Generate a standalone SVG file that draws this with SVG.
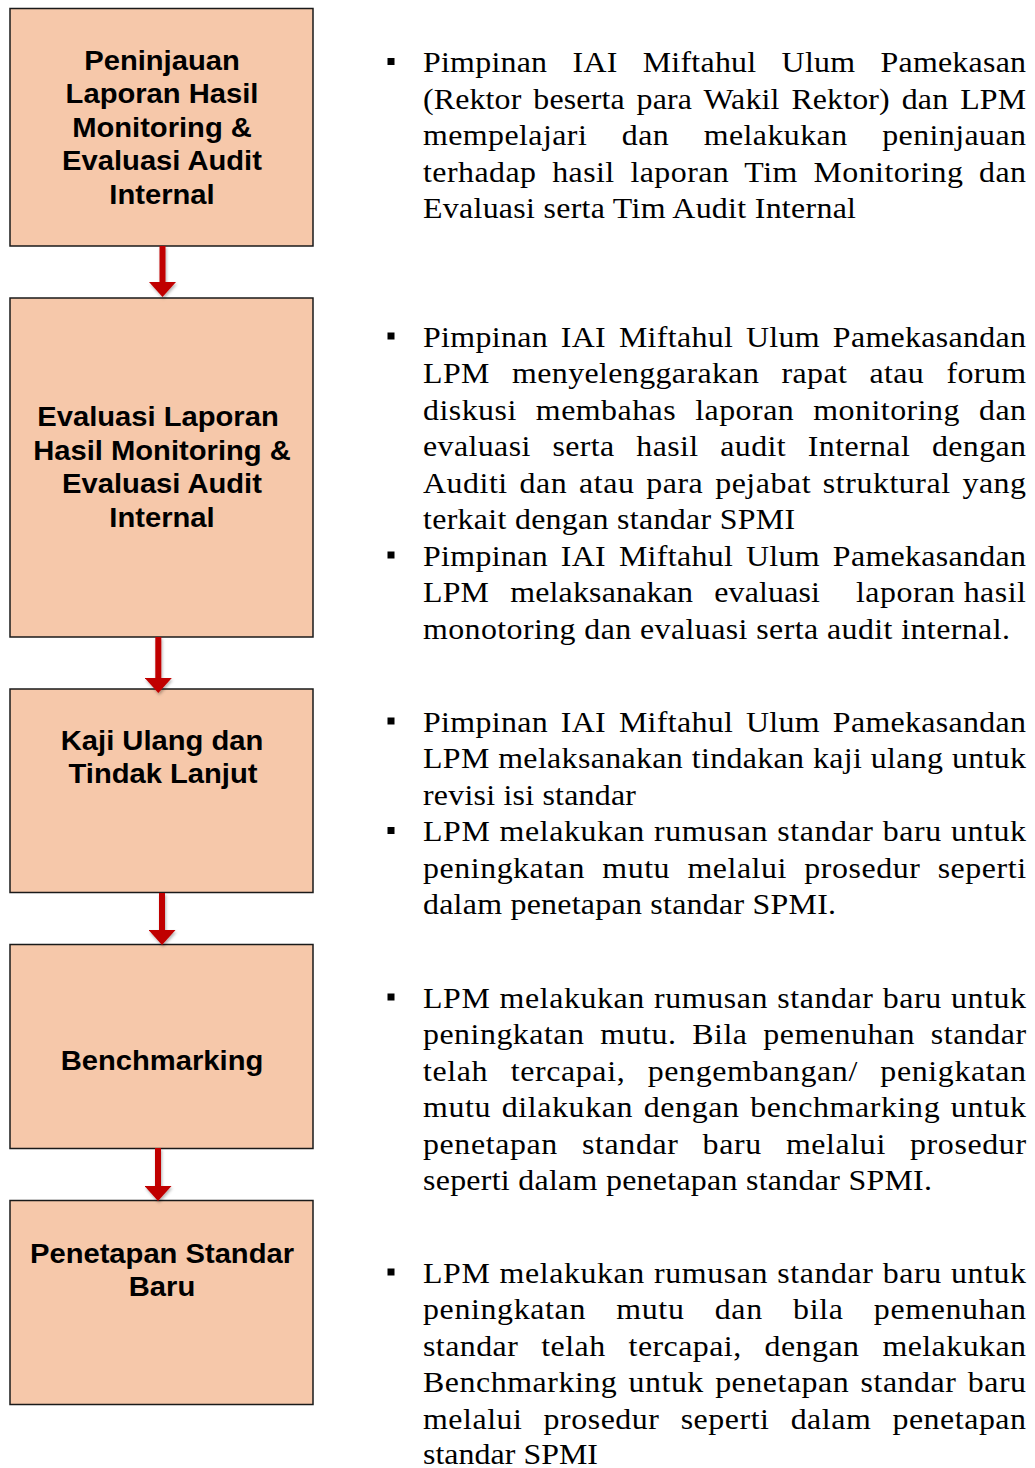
<svg xmlns="http://www.w3.org/2000/svg" width="1035" height="1468" viewBox="0 0 1035 1468">
<style>
.box{fill:#F6C8AA;stroke:#1a1a1a;stroke-width:1.5}
.lbl{font-family:"Liberation Sans",Arial,sans-serif;font-weight:bold;font-size:27px;fill:#000;text-anchor:middle}
.txt{font-family:"Liberation Serif","Times New Roman",serif;font-size:29px;fill:#000}
.conn{stroke:#C00000;stroke-width:6;fill:none}
.bul{fill:#000}
</style>
<defs>
<marker id="ah" viewBox="0 -13.5 15 27" refX="0" refY="0" markerWidth="15" markerHeight="27" markerUnits="userSpaceOnUse" orient="auto">
<path d="M0,-13.5 L15,0 L0,13.5 Z" fill="#C00000"/>
</marker>
<filter id="sh" filterUnits="userSpaceOnUse" x="0" y="0" width="1035" height="1468">
<feDropShadow dx="1" dy="2" stdDeviation="1.5" flood-color="#000" flood-opacity="0.3"/>
</filter>
</defs>
<rect x="0" y="0" width="1035" height="1468" fill="#fff"/>

<g id="node1">
<rect class="box" x="10" y="8.5" width="303" height="237.5"/>
<text class="lbl" transform="translate(162,69.5) scale(1.08,1)">Peninjauan</text>
<text class="lbl" transform="translate(162,103) scale(1.08,1)">Laporan Hasil</text>
<text class="lbl" transform="translate(162,136.5) scale(1.08,1)">Monitoring &amp;</text>
<text class="lbl" transform="translate(162,170) scale(1.08,1)">Evaluasi Audit</text>
<text class="lbl" transform="translate(162,203.5) scale(1.08,1)">Internal</text>
</g>
<g id="node2">
<rect class="box" x="10" y="298" width="303" height="339"/>
<text class="lbl" transform="translate(158,426) scale(1.08,1)">Evaluasi Laporan</text>
<text class="lbl" transform="translate(162,459.5) scale(1.08,1)">Hasil Monitoring &amp;</text>
<text class="lbl" transform="translate(162,493) scale(1.08,1)">Evaluasi Audit</text>
<text class="lbl" transform="translate(162,526.5) scale(1.08,1)">Internal</text>
</g>
<g id="node3">
<rect class="box" x="10" y="689" width="303" height="203.5"/>
<text class="lbl" transform="translate(162,750) scale(1.08,1)">Kaji Ulang dan</text>
<text class="lbl" transform="translate(163,783) scale(1.08,1)">Tindak Lanjut</text>
</g>
<g id="node4">
<rect class="box" x="10" y="944.5" width="303" height="204"/>
<text class="lbl" transform="translate(162,1070) scale(1.08,1)">Benchmarking</text>
</g>
<g id="node5">
<rect class="box" x="10" y="1200.5" width="303" height="204"/>
<text class="lbl" transform="translate(162,1262.5) scale(1.08,1)">Penetapan Standar</text>
<text class="lbl" transform="translate(162,1295.5) scale(1.08,1)">Baru</text>
</g>

<g id="connectors" filter="url(#sh)">
<line class="conn" x1="162.5" y1="246" x2="162.5" y2="282" marker-end="url(#ah)"/>
<line class="conn" x1="158.3" y1="637" x2="158.3" y2="678" marker-end="url(#ah)"/>
<line class="conn" x1="162" y1="893" x2="162" y2="930" marker-end="url(#ah)"/>
<line class="conn" x1="158" y1="1148" x2="158" y2="1186" marker-end="url(#ah)"/>
</g>

<g id="notes">
<rect class="bul" x="387.5" y="58" width="7" height="7"/>
<text class="txt" transform="translate(423,72) scale(1.1,1)" textLength="548.2" lengthAdjust="spacing" word-spacing="15.4">Pimpinan IAI Miftahul Ulum Pamekasan</text>
<text class="txt" transform="translate(423,108.5) scale(1.1,1)" textLength="548.2" lengthAdjust="spacing" word-spacing="3.4">(Rektor beserta para Wakil Rektor) dan LPM</text>
<text class="txt" transform="translate(423,145) scale(1.1,1)" textLength="548.2" lengthAdjust="spacing" word-spacing="23.8">mempelajari dan melakukan peninjauan</text>
<text class="txt" transform="translate(423,181.5) scale(1.1,1)" textLength="548.2" lengthAdjust="spacing" word-spacing="6.6">terhadap hasil laporan Tim Monitoring dan</text>
<text class="txt" transform="translate(423,218) scale(1.1,1)" textLength="393.6" lengthAdjust="spacing">Evaluasi serta Tim Audit Internal</text>

<rect class="bul" x="387.5" y="332.5" width="7" height="7"/>
<text class="txt" transform="translate(423,346.5) scale(1.1,1)" textLength="548.2" lengthAdjust="spacing" word-spacing="4.1">Pimpinan IAI Miftahul Ulum Pamekasandan</text>
<text class="txt" transform="translate(423,383) scale(1.1,1)" textLength="548.2" lengthAdjust="spacing" word-spacing="12.6">LPM menyelenggarakan rapat atau forum</text>
<text class="txt" transform="translate(423,419.5) scale(1.1,1)" textLength="548.2" lengthAdjust="spacing" word-spacing="9.6">diskusi membahas laporan monitoring dan</text>
<text class="txt" transform="translate(423,456) scale(1.1,1)" textLength="548.2" lengthAdjust="spacing" word-spacing="12.1">evaluasi serta hasil audit Internal dengan</text>
<text class="txt" transform="translate(423,492.5) scale(1.1,1)" textLength="548.2" lengthAdjust="spacing" word-spacing="3">Auditi dan atau para pejabat struktural yang</text>
<text class="txt" transform="translate(423,529) scale(1.1,1)" textLength="338.2" lengthAdjust="spacing">terkait dengan standar SPMI</text>
<rect class="bul" x="387.5" y="551.5" width="7" height="7"/>
<text class="txt" transform="translate(423,565.5) scale(1.1,1)" textLength="548.2" lengthAdjust="spacing" word-spacing="4.1">Pimpinan IAI Miftahul Ulum Pamekasandan</text>
<text class="txt" transform="translate(423,602) scale(1.1,1)" textLength="360.9" lengthAdjust="spacing" word-spacing="11.7">LPM melaksanakan evaluasi</text>
<text class="txt" transform="translate(856,602) scale(1.1,1)" textLength="154.5" lengthAdjust="spacing">laporan hasil</text>
<text class="txt" transform="translate(423,638.5) scale(1.1,1)" textLength="533.6" lengthAdjust="spacing">monotoring dan evaluasi serta audit internal.</text>

<rect class="bul" x="387.5" y="717.5" width="7" height="7"/>
<text class="txt" transform="translate(423,731.5) scale(1.1,1)" textLength="548.2" lengthAdjust="spacing" word-spacing="4.1">Pimpinan IAI Miftahul Ulum Pamekasandan</text>
<text class="txt" transform="translate(423,768) scale(1.1,1)" textLength="548.2" lengthAdjust="spacing" word-spacing="0.2">LPM melaksanakan tindakan kaji ulang untuk</text>
<text class="txt" transform="translate(423,804.5) scale(1.1,1)" textLength="193.6" lengthAdjust="spacing">revisi isi standar</text>
<rect class="bul" x="387.5" y="827" width="7" height="7"/>
<text class="txt" transform="translate(423,841) scale(1.1,1)" textLength="548.2" lengthAdjust="spacing" word-spacing="0.6">LPM melakukan rumusan standar baru untuk</text>
<text class="txt" transform="translate(423,877.5) scale(1.1,1)" textLength="548.2" lengthAdjust="spacing" word-spacing="8">peningkatan mutu melalui prosedur seperti</text>
<text class="txt" transform="translate(423,914) scale(1.1,1)" textLength="375.5" lengthAdjust="spacing">dalam penetapan standar SPMI.</text>

<rect class="bul" x="387.5" y="993.5" width="7" height="7"/>
<text class="txt" transform="translate(423,1007.5) scale(1.1,1)" textLength="548.2" lengthAdjust="spacing" word-spacing="0.6">LPM melakukan rumusan standar baru untuk</text>
<text class="txt" transform="translate(423,1044) scale(1.1,1)" textLength="548.2" lengthAdjust="spacing" word-spacing="6.7">peningkatan mutu. Bila pemenuhan standar</text>
<text class="txt" transform="translate(423,1080.5) scale(1.1,1)" textLength="548.2" lengthAdjust="spacing" word-spacing="12.6">telah tercapai, pengembangan/ penigkatan</text>
<text class="txt" transform="translate(423,1117) scale(1.1,1)" textLength="548.2" lengthAdjust="spacing" word-spacing="1.8">mutu dilakukan dengan benchmarking untuk</text>
<text class="txt" transform="translate(423,1153.5) scale(1.1,1)" textLength="548.2" lengthAdjust="spacing" word-spacing="14.1">penetapan standar baru melalui prosedur</text>
<text class="txt" transform="translate(423,1190) scale(1.1,1)" textLength="462.7" lengthAdjust="spacing">seperti dalam penetapan standar SPMI.</text>

<rect class="bul" x="387.5" y="1268.5" width="7" height="7"/>
<text class="txt" transform="translate(423,1282.5) scale(1.1,1)" textLength="548.2" lengthAdjust="spacing" word-spacing="0.6">LPM melakukan rumusan standar baru untuk</text>
<text class="txt" transform="translate(423,1319) scale(1.1,1)" textLength="548.2" lengthAdjust="spacing" word-spacing="19.7">peningkatan mutu dan bila pemenuhan</text>
<text class="txt" transform="translate(423,1355.5) scale(1.1,1)" textLength="548.2" lengthAdjust="spacing" word-spacing="13.2">standar telah tercapai, dengan melakukan</text>
<text class="txt" transform="translate(423,1392) scale(1.1,1)" textLength="548.2" lengthAdjust="spacing" word-spacing="2.5">Benchmarking untuk penetapan standar baru</text>
<text class="txt" transform="translate(423,1428.5) scale(1.1,1)" textLength="548.2" lengthAdjust="spacing" word-spacing="11.5">melalui prosedur seperti dalam penetapan</text>
<text class="txt" transform="translate(423,1464) scale(1.1,1)" textLength="159.1" lengthAdjust="spacing">standar SPMI</text>
</g>
</svg>
